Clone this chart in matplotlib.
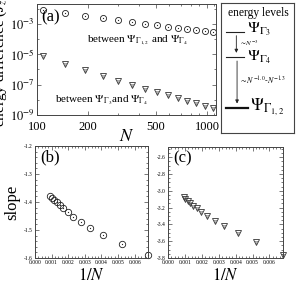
import matplotlib
matplotlib.use("Agg")
import matplotlib.pyplot as plt
import matplotlib.ticker as mt
import numpy as np

plt.rcParams['font.family'] = ['Liberation Serif', 'DejaVu Serif']
plt.rcParams['mathtext.fontset'] = 'stix'

# ---- data ----
N_vals = [108, 147, 192, 243, 300, 363, 432, 507, 588, 675, 768, 867, 972, 1083]
dE_12_4 = [8.3e-3, 5.1e-3, 3.4e-3, 2.3e-3, 1.7e-3, 1.3e-3, 1.0e-3, 7.9e-4,
           6.5e-4, 5.4e-4, 4.5e-4, 3.7e-4, 3.2e-4, 2.75e-4]
dE_3_4 = [7.1e-6, 2.2e-6, 8.5e-7, 3.7e-7, 1.8e-7, 9.5e-8, 5.4e-8, 3.2e-8,
          2.0e-8, 1.3e-8, 8.5e-9, 5.9e-9, 4.1e-9, 2.95e-9]
N_slope = [147, 192, 243, 300, 363, 432, 507, 588, 675, 768, 867, 972, 1083]
slope_b = [-1.59, -1.55, -1.518, -1.492, -1.47, -1.452, -1.435, -1.422,
           -1.41, -1.40, -1.392, -1.385, -1.378]
slope_c = [-3.76, -3.61, -3.50, -3.42, -3.36, -3.30, -3.25, -3.21,
           -3.18, -3.15, -3.12, -3.10, -3.08]
inv_N = [1.0 / n for n in N_slope]

W, H = 296, 285
fig = plt.figure(figsize=(W / 100, H / 100), dpi=100)

def ax_px(l, t, r, b):
    return fig.add_axes([l / W, 1 - b / H, (r - l) / W, (b - t) / H])

FC = '#444444'

def style(ax, lsize):
    for s in ax.spines.values():
        s.set_color(FC)
        s.set_linewidth(0.7)
    ax.tick_params(which='both', direction='in', top=True, right=True,
                   color=FC, width=0.5, labelsize=lsize, pad=1.5)
    ax.tick_params(which='major', length=3)
    ax.tick_params(which='minor', length=1.5)

def circ(ax, x, y, ms):
    ax.plot(x, y, 'o', ms=ms, mfc='none', mec='#222222', mew=0.6, ls='none', clip_on=False)
    ax.plot(x, y, 'o', ms=0.9, mfc='#222222', mec='none', ls='none', clip_on=False)

def tri(ax, x, y, ms):
    ax.plot(x, y, 'v', ms=ms, mfc='none', mec='#333333', mew=0.6, ls='none', clip_on=False)
    ax.plot(x, y, 'v', ms=ms * 0.35, mfc='none', mec='#555555', mew=0.35, ls='none', clip_on=False)

# ---- panel (a) ----
axa = ax_px(37, 4, 216, 115)
circ(axa, N_vals, dE_12_4, 4.4)
tri(axa, N_vals, dE_3_4, 4.6)
axa.set_xscale('log')
axa.set_yscale('log')
axa.set_xlim(100, 1130)
axa.set_ylim(1e-9, 2e-2)
axa.xaxis.set_major_locator(mt.FixedLocator([100, 200, 500, 1000]))
axa.xaxis.set_major_formatter(mt.FixedFormatter(['100', '200', '500', '1000']))
axa.xaxis.set_minor_locator(mt.FixedLocator([300, 400, 600, 700, 800, 900, 1100]))
axa.xaxis.set_minor_formatter(mt.NullFormatter())
axa.yaxis.set_major_locator(mt.FixedLocator([1e-9, 1e-7, 1e-5, 1e-3]))
axa.yaxis.set_major_formatter(mt.FixedFormatter([r'$10^{-9}$', r'$10^{-7}$', r'$10^{-5}$', r'$10^{-3}$']))
axa.yaxis.set_minor_locator(mt.FixedLocator([1e-8, 1e-6, 1e-4, 1e-2]))
axa.yaxis.set_minor_formatter(mt.NullFormatter())
style(axa, 9)
axa.tick_params(axis='x', pad=4.5)
axa.set_xlabel(r'$N$', fontsize=13, labelpad=-4)
axa.set_ylabel(r'energy difference ($J_z$)', fontsize=11, labelpad=1)
axa.text(0.025, 0.84, '(a)', transform=axa.transAxes, fontsize=12)
axa.text(0.28, 0.67, r'between $\Psi_{\Gamma_{1,2}}$ and $\Psi_{\Gamma_4}$',
         transform=axa.transAxes, fontsize=8, va='center')
axa.text(0.10, 0.13, r'between $\Psi_{\Gamma_3}$and $\Psi_{\Gamma_4}$',
         transform=axa.transAxes, fontsize=8, va='center')

# ---- energy level box ----
axe = ax_px(221, 3, 294, 133)
axe.set_xticks([]); axe.set_yticks([])
axe.set_xlim(0, 1); axe.set_ylim(0, 1)
for s in axe.spines.values():
    s.set_color(FC); s.set_linewidth(0.8)
axe.text(0.51, 0.925, 'energy levels', fontsize=8.3, ha='center', va='center')
axe.plot([0.07, 0.32], [0.777, 0.777], color='#222222', lw=0.8)
axe.plot([0.07, 0.32], [0.585, 0.585], color='#222222', lw=0.8)
axe.plot([0.07, 0.37], [0.192, 0.192], color='#111111', lw=1.6)
axe.text(0.36, 0.795, r'$\Psi_{\Gamma_3}$', fontsize=11.5, va='center')
axe.text(0.36, 0.585, r'$\Psi_{\Gamma_4}$', fontsize=11.5, va='center')
axe.text(0.40, 0.20, r'$\Psi_{\Gamma_{1,2}}$', fontsize=12.5, va='center')
axe.annotate('', xy=(0.21, 0.595), xytext=(0.21, 0.77),
             arrowprops=dict(arrowstyle='-|>', color='#222222', lw=0.6, mutation_scale=5))
axe.annotate('', xy=(0.22, 0.205), xytext=(0.22, 0.575),
             arrowprops=dict(arrowstyle='-|>', color='#222222', lw=0.6, mutation_scale=5))
axe.text(0.25, 0.688, r'$\sim N^{-3}$', fontsize=5.0, va='center')
axe.text(0.24, 0.40, r'$\sim N^{-1.0}$-$N^{-1.3}$', fontsize=5.8, va='center')

# ---- panel (b) ----
axb = ax_px(35, 146, 148, 258)
circ(axb, inv_N, slope_b, 4.6)
axb.set_xlim(0, 0.0068)
axb.set_ylim(-1.6, -1.2)
axb.xaxis.set_major_locator(mt.MultipleLocator(0.001))
axb.xaxis.set_major_formatter(mt.FormatStrFormatter('%.3f'))
axb.xaxis.set_minor_locator(mt.MultipleLocator(0.0002))
axb.yaxis.set_major_locator(mt.MultipleLocator(0.1))
axb.yaxis.set_major_formatter(mt.FormatStrFormatter('%.1f'))
axb.yaxis.set_minor_locator(mt.MultipleLocator(0.02))
style(axb, 4)
axb.set_xlabel(r'$1/N$', fontsize=12, labelpad=2)
axb.set_ylabel('slope', fontsize=12, labelpad=3)
axb.text(0.05, 0.86, '(b)', transform=axb.transAxes, fontsize=12)

# ---- panel (c) ----
axc = ax_px(168, 147, 283, 258)
tri(axc, inv_N, slope_c, 4.8)
axc.set_xlim(0, 0.0068)
axc.set_ylim(-3.8, -2.48)
axc.xaxis.set_major_locator(mt.MultipleLocator(0.001))
axc.xaxis.set_major_formatter(mt.FormatStrFormatter('%.3f'))
axc.xaxis.set_minor_locator(mt.MultipleLocator(0.0002))
axc.yaxis.set_major_locator(mt.MultipleLocator(0.2))
axc.yaxis.set_major_formatter(mt.FormatStrFormatter('%.1f'))
axc.yaxis.set_minor_locator(mt.MultipleLocator(0.05))
style(axc, 4)
axc.set_xlabel(r'$1/N$', fontsize=12, labelpad=2)
axc.text(0.05, 0.86, '(c)', transform=axc.transAxes, fontsize=12)

fig.savefig('out.png', dpi=100)
